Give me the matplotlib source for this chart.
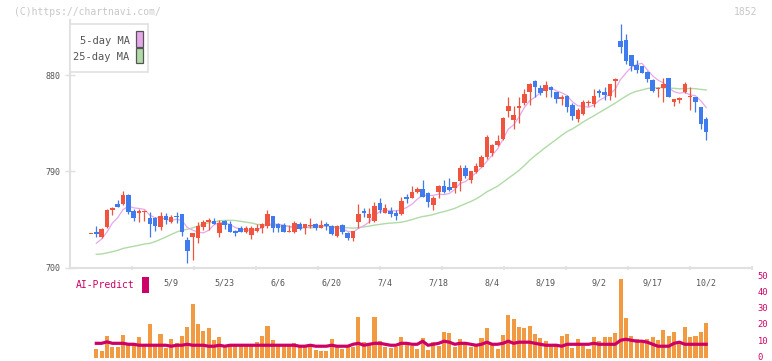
import matplotlib
matplotlib.use('Agg')
import matplotlib.pyplot as plt
from matplotlib.patches import Rectangle
from matplotlib.transforms import blended_transform_factory, ScaledTranslation
import numpy as np
import pandas as pd

W, H = 772, 361

# closes before the visible window, only used to seed the moving averages
pre_close = [728, 730, 727, 725, 724, 726, 722, 727, 725, 725,
             700, 695, 690, 688, 692, 690, 695, 697, 696, 696,
             716, 721.5, 714.5]

# first entry is the flat bar at the left edge (it has no volume)
opens = [731, 733, 729, 738, 753.5, 759.5, 759.5, 768, 753, 751.5, 752,
         746.5, 746.5, 738, 748, 743, 748.5, 750, 726, 729, 728,
         738, 742.5, 744, 732, 744, 741, 734, 737.5, 733.5, 730.5,
         734.5, 737.5, 739, 748.5, 740.5, 740, 733.5, 733.5, 740.5, 737.5,
         738.5, 740.5, 737.5, 740.5, 739, 730, 740, 732.5, 728, 743,
         752.5, 746, 744, 760.5, 751.5, 752.5, 751, 750, 766.5, 765.5,
         770.5, 773.5, 770, 758.5, 771, 776.5, 775.5, 774.5, 781, 793.5,
         782, 789.5, 794.5, 803.5, 807, 814.5, 820, 846.5, 838, 849.5,
         854, 864.5, 874.5, 868, 865.5, 869, 864, 857.5, 860.5, 852,
         839, 844, 853.5, 853, 865.5, 864.5, 860.5, 874.5, 912, 912.5,
         898.5, 889.5, 888, 883, 875.5, 866.5, 868, 877, 854.5, 856.5,
         864.5, 859, 859, 850, 839]
highs = [731, 739, 737, 755, 756.5, 763, 771.5, 768.5, 755, 755, 753.5,
         752, 747, 752, 751, 749, 752, 750.5, 729, 732.5, 743,
         745, 746, 746.5, 744.5, 745, 744, 735, 739, 738.5, 739,
         741, 741.5, 754, 748.5, 742, 742, 740, 744, 743, 740.5,
         746, 742, 745, 743, 739.5, 739.5, 740.5, 733, 734.5, 759.5,
         756, 755.5, 761, 765.5, 759.5, 756.5, 754, 766.5, 769, 776.5,
         775.5, 782, 770.5, 767, 777, 782, 784, 780.5, 795.5, 796,
         790.5, 798, 805.5, 824, 816, 824, 841, 859.5, 851, 859.5,
         866.5, 873, 875, 870.5, 874.5, 870, 864.5, 861.5, 861, 853.5,
         849.5, 856.5, 856.5, 867, 866.5, 868.5, 872, 877.5, 927.5, 918,
         899, 894, 888.5, 883.5, 876, 868.5, 877, 877.5, 858, 859.5,
         873.5, 868.5, 859.5, 850.5, 841]
lows = [731, 729, 728, 737, 749, 756.5, 759, 750, 743.5, 743, 743.5,
        729, 734, 735, 741, 741.5, 742, 729.5, 704, 707, 723,
        735, 735, 740.5, 729, 736, 733, 729.5, 733, 732.5, 726.5,
        733, 732, 737.5, 733.5, 733.5, 733, 733, 732.5, 735.5, 731.5,
        737.5, 735.5, 737, 735.5, 730.5, 729, 731, 726, 725, 737.5,
        747.5, 742, 743, 751, 751, 747.5, 745, 749.5, 760, 765,
        770, 766, 757, 754, 765, 769.5, 772, 770, 771.5, 784,
        779, 788, 794, 802, 804.5, 813.5, 819, 841, 830, 835.5,
        852, 852, 859.5, 861.5, 859.5, 859.5, 854, 852, 845, 838,
        836, 842.5, 851, 850, 859, 856.5, 856.5, 859.5, 901, 890,
        884, 882, 881.5, 873.5, 864.5, 859.5, 855, 859.5, 851, 854,
        863, 847.5, 845, 830, 819.5]
closes = [731, 731, 736, 754, 756, 757, 768, 752, 746.5, 753, 753,
          741, 739, 748, 745, 747.5, 747, 733, 715.5, 732, 739,
          743, 745, 741, 742, 739.5, 733, 732, 733.5, 737.5, 737.5,
          737.5, 740.5, 750.5, 737, 737.5, 733.5, 734.5, 742, 736, 740.5,
          740, 737.5, 740, 738.5, 731.5, 739, 733, 727.5, 734.5, 750,
          751, 750, 757.5, 754, 755.5, 750, 748.5, 762.5, 764.5, 771,
          773.5, 766.5, 761.5, 765.5, 776.5, 771, 772.5, 780, 793.5, 785.5,
          790.5, 795, 803.5, 822.5, 814.5, 818.5, 840, 851.5, 842.5, 851,
          862.5, 872, 868.5, 863.5, 870.5, 866, 857.5, 859.5, 850.5, 841.5,
          847.5, 855, 855, 860.5, 863.5, 861.5, 871.5, 876.5, 906.5, 893.5,
          888, 884.5, 882, 876, 865.5, 868, 871.5, 859.5, 857.5, 858.5,
          872, 860, 855, 834, 827]

volume = [5.4, 4.1, 13.5, 6.6, 6.6, 14.1, 7.9, 7.9, 12.9, 7.9,
          21.0, 7.9, 14.7, 6.0, 11.6, 9.1, 13.5, 19.1, 33.4, 21.0,
          16.6, 18.5, 11.0, 12.9, 7.9, 7.3, 7.9, 7.9, 7.3, 7.9,
          9.8, 13.5, 19.7, 11.0, 7.9, 7.9, 7.9, 9.1, 7.3, 7.3,
          7.9, 4.8, 4.1, 4.1, 11.6, 7.3, 5.4, 6.6, 6.6, 25.3,
          9.8, 7.9, 25.3, 10.4, 6.6, 6.0, 6.6, 12.9, 9.8, 7.3,
          5.4, 12.2, 4.8, 9.8, 7.3, 16.0, 15.4, 6.6, 11.6, 9.1,
          6.6, 7.3, 12.2, 18.5, 7.9, 5.4, 14.1, 26.6, 24.1, 19.1,
          18.5, 19.7, 14.7, 12.2, 10.4, 7.9, 8.5, 13.5, 14.7, 6.0,
          11.6, 7.3, 5.4, 12.9, 10.4, 12.9, 12.9, 15.4, 49.0, 24.7,
          13.5, 11.6, 9.1, 11.6, 12.9, 11.0, 17.2, 13.5, 16.0, 9.8,
          19.1, 12.9, 13.5, 16.0, 21.6]
ai_predict = [9.1, 9.1, 10.0, 9.1, 9.1, 9.1, 8.5, 8.5, 7.9, 7.9,
              7.9, 7.9, 7.9, 7.9, 7.3, 7.9, 7.9, 8.5, 7.9, 7.9,
              7.9, 7.3, 7.3, 7.9, 7.3, 7.9, 7.9, 7.9, 7.9, 7.9,
              7.9, 7.9, 7.9, 7.9, 7.9, 7.9, 7.9, 7.9, 7.3, 7.3,
              7.9, 7.3, 7.3, 7.3, 7.9, 7.3, 7.3, 7.3, 8.5, 9.1,
              7.9, 8.5, 9.1, 9.1, 8.5, 7.9, 7.9, 9.1, 9.1, 8.5,
              8.5, 10.4, 7.9, 8.5, 9.1, 10.4, 9.8, 8.5, 9.1, 9.1,
              8.5, 7.9, 8.5, 9.8, 8.5, 8.5, 9.1, 10.4, 9.1, 9.8,
              9.8, 9.8, 9.1, 8.5, 7.9, 7.9, 7.9, 7.3, 8.5, 8.5,
              8.5, 8.5, 8.5, 9.1, 8.5, 8.5, 8.5, 8.5, 11.0, 11.6,
              11.0, 10.4, 10.4, 9.8, 8.5, 7.3, 7.3, 7.3, 9.1, 9.8,
              8.5, 8.5, 8.5, 8.5, 8.5]

date_labels = ['5/9', '5/23', '6/6', '6/20', '7/4', '7/18',
               '8/4', '8/19', '9/2', '9/17', '10/2']
date_index = [14, 24, 34, 44, 54, 64, 74, 84, 94, 104, 114]
price_ticks = [700, 790, 880]
vol_ticks = [0, 10, 20, 30, 40, 50]

UP = '#f0543f'
DOWN = '#3f7bee'
MA5_C = '#e6a8ea'
MA25_C = '#b0dba6'
ORANGE = '#f29a42'
MAGENTA = '#cc0066'
GRID = '#e0e0e0'
TXT = '#555555'

plt.rcParams['font.family'] = ['DejaVu Sans Mono']


def fx(px):
    return px / W


def fy(py):
    return 1 - py / H


fig = plt.figure(figsize=(W / 100, H / 100), dpi=100)

x_lo, x_hi = (70 - 96.3) / 5.35, (752 - 96.3) / 5.35

# price panel
ax = fig.add_axes([fx(70), fy(268), fx(752) - fx(70), fy(20) - fy(268)])
xs = np.arange(-1, len(closes) - 1)
o = np.array(opens)
c = np.array(closes)
colors = [UP if cc >= oo else DOWN for oo, cc in zip(o, c)]

all_close = pd.Series(pre_close + closes)
ma5 = all_close.rolling(5).mean().values[len(pre_close) + 1:]
ma25 = all_close.rolling(25).mean().values[len(pre_close) + 1:]
ax.plot(xs[1:], ma25, color=MA25_C, lw=1.0, zorder=1)
ax.plot(xs[1:], ma5, color=MA5_C, lw=0.9, zorder=1)

ax.vlines(xs, lows, highs, color=colors, lw=0.9, zorder=2)
body = np.maximum(np.abs(c - o), 1.0)
ax.bar(xs, body, bottom=np.minimum(o, c), width=0.85, color=colors,
       linewidth=0, zorder=3)

ax.set_xlim(x_lo, x_hi)
ax.set_ylim(699.7, 931.4)
ax.set_yticks(price_ticks)
ax.set_yticklabels([str(t) for t in price_ticks])
ax.set_xticks([x_lo + (j + 1) / 11 * (x_hi - x_lo) for j in range(11)])
ax.set_xticklabels([])
for s in ['top', 'right']:
    ax.spines[s].set_visible(False)
for s in ['left', 'bottom']:
    ax.spines[s].set_color(GRID)
    ax.spines[s].set_linewidth(1.5)
ax.tick_params(axis='y', direction='inout', length=6.5, width=1,
               color=GRID, labelsize=6, labelcolor=TXT, pad=3.5)
ax.tick_params(axis='x', direction='inout', length=3.5, width=1.2,
               color=GRID)

# volume panel
vx = fig.add_axes([fx(70), fy(358), fx(752) - fx(70), fy(277.3) - fy(358)])
vi = np.arange(len(volume))
vx.bar(vi, volume, width=0.75, color=ORANGE, linewidth=0, zorder=1)
vx.plot(vi, ai_predict, color=MAGENTA, lw=2.3, zorder=2)
vx.set_xlim(x_lo, x_hi)
vx.set_ylim(0, 50)
vx.set_xticks([])
vx.yaxis.tick_right()
vx.set_yticks(vol_ticks)
vx.tick_params(axis='y', length=0, labelsize=6.3, labelcolor=MAGENTA, pad=4)
shift_up = ScaledTranslation(0, 1.8 / 100, fig.dpi_scale_trans)
for lab in vx.get_yticklabels():
    lab.set_transform(lab.get_transform() + shift_up)
for s in vx.spines.values():
    s.set_visible(False)
vx.patch.set_alpha(0)

date_tr = blended_transform_factory(vx.transData, fig.transFigure)
for lab, k in zip(date_labels, date_index):
    vx.text(k, fy(282.5), lab, transform=date_tr, ha='center', va='center',
            fontsize=6, color=TXT)

# header texts
fig.text(fx(14), fy(12), '(C)https://chartnavi.com/', fontsize=7,
         color='#c8c8c8', ha='left', va='center')
fig.text(fx(757), fy(12), '1852', fontsize=7, color='#c8c8c8',
         ha='right', va='center')

# AI-Predict marker
fig.text(fx(76), fy(285), 'AI-Predict', fontsize=7, color=MAGENTA,
         ha='left', va='center')
fig.add_artist(Rectangle((fx(142.3), fy(292.7)), fx(148.7) - fx(142.3),
                         fy(276.7) - fy(292.7), transform=fig.transFigure,
                         facecolor=MAGENTA, edgecolor='none'))

# legend box
fig.add_artist(Rectangle((fx(70), fy(71.7)), fx(148.3) - fx(70),
                         fy(24) - fy(71.7), transform=fig.transFigure,
                         facecolor='white', edgecolor=GRID, lw=1.2, zorder=5))
for name, col, yt, y0, y1 in [('5-day MA', MA5_C, 40.7, 31, 46.7),
                              ('25-day MA', MA25_C, 57.3, 48.3, 63.3)]:
    fig.text(fx(129.5), fy(yt), name, fontsize=7.5, color=TXT,
             ha='right', va='center', zorder=6)
    fig.add_artist(Rectangle((fx(136), fy(y1)), fx(142.7) - fx(136),
                             fy(y0) - fy(y1), transform=fig.transFigure,
                             facecolor=col, edgecolor=TXT, lw=0.9, zorder=6))

fig.savefig('out.png', dpi=100)
